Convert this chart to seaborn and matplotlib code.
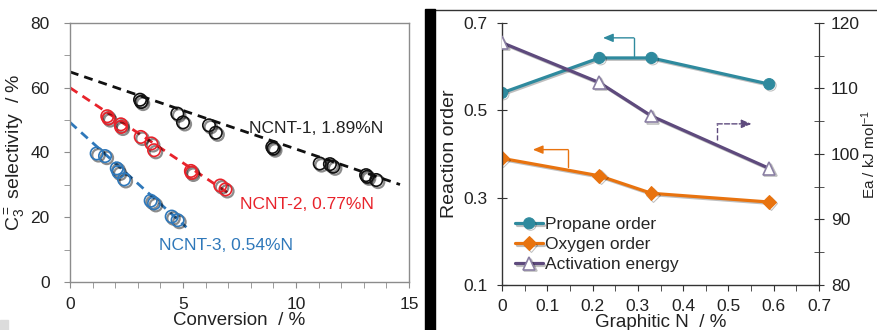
import numpy as np
import matplotlib
matplotlib.use("Agg")
import matplotlib.pyplot as plt
import matplotlib.patheffects as pe
from matplotlib.patches import Rectangle
from matplotlib.ticker import MultipleLocator, FuncFormatter
import pandas as pd
import seaborn as sns

sns.set_style("ticks")
plt.rcParams['font.family'] = ['Liberation Sans', 'DejaVu Sans']
plt.rcParams['mathtext.fontset'] = 'custom'
plt.rcParams['mathtext.rm'] = 'Liberation Sans'
plt.rcParams['mathtext.it'] = 'Liberation Sans'

# ---- left panel data: selectivity vs conversion ----
ncnt1_conv = [3.1, 3.15, 4.75, 5.0, 6.15, 6.45, 8.95, 9.0, 11.05, 11.5, 11.65, 13.1, 13.15, 13.55]
ncnt1_sel = [56.3, 55.6, 52.0, 49.3, 48.4, 46.1, 41.7, 41.2, 36.6, 36.4, 35.6, 33.0, 32.5, 31.5]
ncnt2_conv = [1.65, 1.7, 2.25, 2.26, 3.13, 3.6, 3.72, 5.35, 5.38, 6.65, 6.88]
ncnt2_sel = [51.2, 50.5, 48.7, 47.9, 44.8, 42.8, 40.7, 34.3, 33.7, 29.8, 28.6]
ncnt3_conv = [1.18, 1.55, 2.07, 2.14, 2.39, 3.57, 3.72, 4.5, 4.76]
ncnt3_sel = [39.7, 38.9, 35.1, 34.0, 31.7, 25.1, 24.3, 20.2, 19.1]

# dashed trend lines (end points)
ncnt1_fit_x = [0, 14.6]
ncnt1_fit_y = [64.9, 30.1]
ncnt2_fit_x = [0, 7.15]
ncnt2_fit_y = [60.0, 26.8]
ncnt3_fit_x = [0, 5.15]
ncnt3_fit_y = [49.3, 16.9]

sample_labels = ["NCNT-1, 1.89%N", "NCNT-2, 0.77%N", "NCNT-3, 0.54%N"]
label_pos = [(7.9, 47.4), (7.5, 23.8), (3.95, 11.4)]

# ---- right panel data: reaction orders and Ea vs graphitic N ----
graphitic_n = [0.0, 0.215, 0.33, 0.59]
propane_order = [0.54, 0.62, 0.62, 0.56]
oxygen_order = [0.39, 0.35, 0.31, 0.29]
activation_energy = [117.0, 110.9, 105.8, 97.8]
order_ticks = [0.1, 0.3, 0.5, 0.7]

black = '#111111'
red = '#E8232B'
blue = '#2F78BA'
teal = '#2F8A9E'
orange = '#E8730F'
purple = '#5E4A7D'

fig = plt.figure(figsize=(8.77, 3.3), dpi=100)
ax1 = fig.add_axes([0.0798, 0.1455, 0.3866, 0.7848])
ax2 = fig.add_axes([0.5724, 0.1364, 0.3615, 0.7939])

series = [
    (ncnt1_conv, ncnt1_sel, ncnt1_fit_x, ncnt1_fit_y, black),
    (ncnt2_conv, ncnt2_sel, ncnt2_fit_x, ncnt2_fit_y, red),
    (ncnt3_conv, ncnt3_sel, ncnt3_fit_x, ncnt3_fit_y, blue),
]
for i, (cx, cy, fx, fy, col) in enumerate(series):
    sns.lineplot(x=fx, y=fy, color=col, lw=2.0, ax=ax1)
    ax1.lines[-1].set_dashes((3.2, 2.2))
    sc = ax1.scatter(cx, cy, s=80, facecolors='none', edgecolors=col, linewidths=1.2, zorder=3)
    sc.set_path_effects([pe.Stroke(offset=(1.3, -1.3), linewidth=1.6, foreground='black', alpha=0.45),
                         pe.Normal()])
    ax1.text(label_pos[i][0], label_pos[i][1], sample_labels[i], color=col if col != black else '#222222',
             fontsize=12.5, ha='left', va='center')

ax1.set_xlim(0, 15)
ax1.set_ylim(0, 80)
ax1.xaxis.set_major_locator(MultipleLocator(5))
ax1.xaxis.set_minor_locator(MultipleLocator(1))
ax1.yaxis.set_major_locator(MultipleLocator(20))
ax1.yaxis.set_minor_locator(MultipleLocator(10))
for s in ax1.spines.values():
    s.set_color('#8c8c8c')
    s.set_linewidth(1.0)
ax1.tick_params(which='both', color='#8c8c8c', labelcolor='#222222', labelsize=12.5)
ax1.tick_params(axis='x', which='major', length=4, pad=7)
ax1.tick_params(axis='y', which='major', length=4, pad=10.5)
ax1.tick_params(which='minor', length=4)
ax1.set_xlabel("Conversion  / %", fontsize=13.5, color='#222222', labelpad=0)
ax1.set_ylabel(r"C$_3^=$ selectivity  / %", fontsize=14, color='#222222')
ax1.yaxis.set_label_coords(-0.12, 0.5)

# right panel
sns.lineplot(x=graphitic_n, y=propane_order, color=teal, lw=2.3, marker='o', markersize=8,
             markeredgecolor=teal, ax=ax2, label='Propane order')
sns.lineplot(x=graphitic_n, y=oxygen_order, color=orange, lw=2.3, marker='D', markersize=7,
             markeredgecolor=orange, ax=ax2, label='Oxygen order')
ax3 = ax2.twinx()
sns.lineplot(x=graphitic_n, y=activation_energy, color=purple, lw=2.3, marker='^', markersize=9,
             markerfacecolor='white', markeredgecolor='#8a7fa3', markeredgewidth=1.2, ax=ax3,
             label='Activation energy')
for ln in ax2.lines + ax3.lines:
    ln.set_path_effects([pe.SimpleLineShadow(offset=(1, -1), alpha=0.25), pe.Normal()])

# direction arrows
teal_arrow = [(0.291, 0.625), (0.291, 0.666), (0.223, 0.666)]
orange_arrow = [(0.146, 0.371), (0.146, 0.410), (0.068, 0.410)]
purple_arrow = [(0.475, 102.1), (0.475, 104.6), (0.551, 104.6)]
for pts, axx, col, ls in [(teal_arrow, ax2, teal, '-'), (orange_arrow, ax2, orange, '-'),
                          (purple_arrow, ax3, purple, '--')]:
    axx.plot([pts[0][0], pts[1][0]], [pts[0][1], pts[1][1]], color=col, lw=1.0, ls=ls)
    axx.annotate('', xy=pts[2], xytext=pts[1],
                 arrowprops=dict(arrowstyle='-|>,head_length=0.6,head_width=0.25', color=col, lw=1.0,
                                 ls=ls, shrinkA=0, shrinkB=0))

ax2.set_xlim(0, 0.7)
ax2.set_ylim(0.1, 0.7)
ax3.set_ylim(80, 120)
ax2.xaxis.set_major_locator(MultipleLocator(0.1))
ax2.xaxis.set_minor_locator(MultipleLocator(0.05))
ax2.set_yticks(order_ticks)
ax2.yaxis.set_major_formatter(FuncFormatter(lambda v, p: f'{v:.1f}'))
ax3.yaxis.set_major_locator(MultipleLocator(10))
ax3.yaxis.set_minor_locator(MultipleLocator(5))
ax2.xaxis.set_major_formatter(FuncFormatter(lambda v, p: '0' if abs(v) < 1e-9 else f'{v:.1f}'))
ax2.spines['top'].set_visible(False)
ax3.spines['top'].set_visible(False)
ax3.spines['left'].set_visible(False)
ax3.spines['bottom'].set_visible(False)
for s in ['left', 'bottom']:
    ax2.spines[s].set_color('#333333')
    ax2.spines[s].set_linewidth(1.0)
ax3.spines['right'].set_color('#333333')
ax2.tick_params(which='both', color='#333333', labelcolor='#222222', labelsize=12.5)
ax2.tick_params(axis='x', which='both', direction='out', length=4, pad=6)
ax2.tick_params(axis='y', which='both', direction='inout', length=7, pad=7)
ax3.tick_params(which='both', direction='inout', length=7, color='#333333', labelcolor='#222222',
                labelsize=12.5, pad=5)
ax2.set_xlabel("Graphitic N  / %", fontsize=13.5, color='#222222', labelpad=0)
ax2.set_ylabel("Reaction order", fontsize=14, color='#222222', labelpad=4)
ax3.set_ylabel("")
fig.text(0.9904, 0.5333, r"Ea / kJ mol$^{-1}$", rotation=90, ha='center', va='center',
         fontsize=11, color='#222222')

h2, l2 = ax2.get_legend_handles_labels()
h3, l3 = ax3.get_legend_handles_labels()
ax3.get_legend().remove()
ax2.get_legend().remove()
ax2.legend(h2 + h3, l2 + l3, loc='upper left', bbox_to_anchor=(0.02, 0.285), frameon=False,
           fontsize=12.5, handlelength=1.6, handletextpad=0.1, labelspacing=0.28, borderaxespad=0)

# panel decorations: black divider and frame line
fig.patches.append(Rectangle((0.4846, 0), 0.0114, 1 - 9 / 330, transform=fig.transFigure,
                             color='black', zorder=5))
fig.add_artist(plt.Line2D([0.496, 1.0], [1 - 9.5 / 330, 1 - 9.5 / 330], transform=fig.transFigure,
                          color='#333333', lw=1.0))
fig.patches.append(Rectangle((0, 0), 8 / 877, 10 / 330, transform=fig.transFigure,
                             color='#dcdcdc', zorder=5))

fig.savefig("out.png", dpi=100)
